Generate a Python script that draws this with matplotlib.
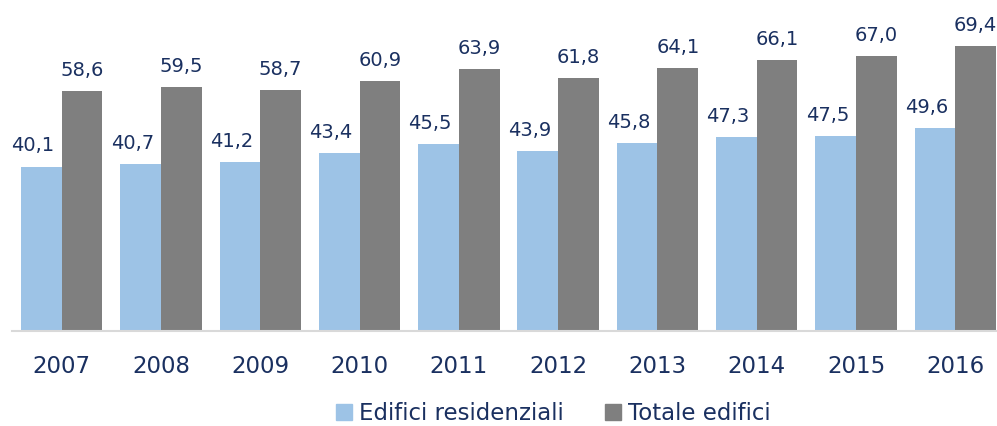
import numpy as np
import matplotlib.pyplot as plt
from matplotlib.patches import Patch

# dati
anni = ['2007', '2008', '2009', '2010', '2011', '2012', '2013', '2014', '2015', '2016']
residenziali = [40.1, 40.7, 41.2, 43.4, 45.5, 43.9, 45.8, 47.3, 47.5, 49.6]
totale = [58.6, 59.5, 58.7, 60.9, 63.9, 61.8, 64.1, 66.1, 67.0, 69.4]

c_res = '#9DC3E6'
c_tot = '#7F7F7F'
c_txt = '#1A3060'

def fmt(v):
    return f'{v:.1f}'.replace('.', ',')

fig = plt.figure(figsize=(9.97, 4.26), dpi=100)
# asse che esce a destra come nell'originale
ax = fig.add_axes([12 / 997, 1 - 331 / 426, 993 / 997, 331 / 426])

x = np.arange(len(anni))
w = 0.41
b1 = ax.bar(x - w / 2, residenziali, w, color=c_res)
b2 = ax.bar(x + w / 2, totale, w, color=c_tot)

for r, v in zip(b1, residenziali):
    ax.annotate(fmt(v), (r.get_x() + r.get_width() / 2, r.get_height()),
                xytext=(-6, 8), textcoords='offset points', ha='center',
                va='bottom', fontsize=14, color=c_txt)
for r, v in zip(b2, totale):
    ax.annotate(fmt(v), (r.get_x() + r.get_width() / 2, r.get_height()),
                xytext=(0, 8), textcoords='offset points', ha='center',
                va='bottom', fontsize=14, color=c_txt)

ax.set_xlim(-0.5, 9.5)
ax.set_ylim(0, 331 / 4.1)
ax.set_xticks(x)
ax.set_xticklabels(anni, fontsize=16.5, color=c_txt)
ax.tick_params(axis='x', length=0, pad=17)
ax.set_yticks([])
for s in ['top', 'right', 'left']:
    ax.spines[s].set_visible(False)
ax.spines['bottom'].set_color('#D9D9D9')
ax.spines['bottom'].set_linewidth(1.5)

handles = [Patch(color=c_res, label='Edifici residenziali'),
           Patch(color=c_tot, label='Totale edifici')]
leg = fig.legend(handles=handles, loc='center', bbox_to_anchor=(0.555, 0.03),
                 ncol=2, frameon=False, fontsize=16.5, handlelength=0.7,
                 handleheight=0.7, handletextpad=0.3, columnspacing=1.8)
for t in leg.get_texts():
    t.set_color(c_txt)

fig.savefig('out.png', dpi=100)
